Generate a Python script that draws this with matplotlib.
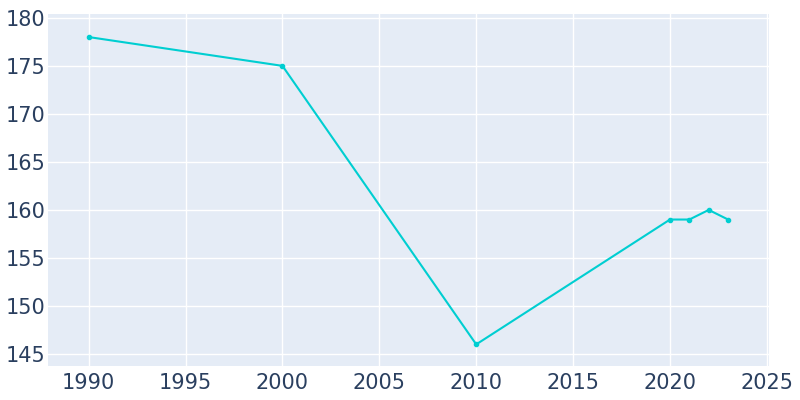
import matplotlib
matplotlib.use("Agg")
import matplotlib.pyplot as plt

# Population by year
years = [1990, 2000, 2010, 2020, 2021, 2022, 2023]
population = [178, 175, 146, 159, 159, 160, 159]

x_ticks = [1990, 1995, 2000, 2005, 2010, 2015, 2020, 2025]
y_ticks = [145, 150, 155, 160, 165, 170, 175, 180]

fig = plt.figure(figsize=(8, 4), dpi=100)
ax = fig.add_axes([0.06, 0.085, 0.901, 0.88])
ax.set_facecolor("#E5ECF6")

ax.plot(years, population, color="#00CED1", linewidth=1.5,
        marker="o", markersize=3, zorder=3)

ax.set_xlim(1987.9, 2025.1)
ax.set_ylim(143.75, 180.4)
ax.set_xticks(x_ticks)
ax.set_yticks(y_ticks)
ax.grid(True, color="white", linewidth=1)
ax.set_axisbelow(True)
for s in ax.spines.values():
    s.set_visible(False)
ax.tick_params(length=0, labelsize=15, labelcolor="#2a3f5f")
ax.tick_params(axis="x", pad=5)
ax.tick_params(axis="y", pad=2)

fig.savefig("out.png", dpi=100)
